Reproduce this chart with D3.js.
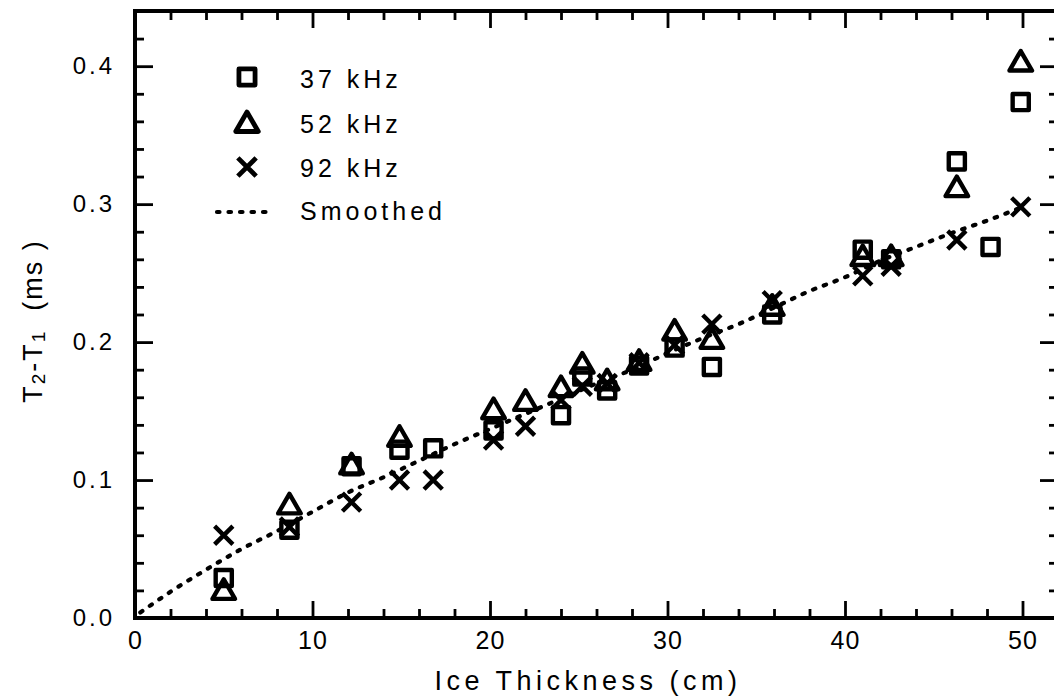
<!DOCTYPE html>
<html>
<head>
<meta charset="utf-8">
<script src="https://cdn.jsdelivr.net/npm/d3@7/dist/d3.min.js"></script>
<style>
  html, body { margin: 0; padding: 0; background: #fff; }
  svg { display: block; }
  text { font-family: "Liberation Sans", "DejaVu Sans", sans-serif; fill: #000; }
</style>
</head>
<body>
<script>
// Travel-time difference vs. ice thickness, three frequencies plus a smoothed fit
const thick37 = [5.0, 8.7, 12.2, 14.9, 16.8, 20.2, 24.0, 25.2, 26.6, 28.4, 30.4, 32.5, 35.9, 41.0, 42.6, 46.3, 48.2, 49.9];
const val37   = [0.029, 0.064, 0.110, 0.122, 0.123, 0.136, 0.147, 0.175, 0.165, 0.183, 0.196, 0.182, 0.220, 0.267, 0.260, 0.331, 0.269, 0.374];

const thick52 = [5.0, 8.7, 12.2, 14.9, 20.2, 22.0, 24.0, 25.2, 26.6, 28.4, 30.4, 32.5, 35.9, 41.0, 42.6, 46.3, 49.9];
const val52   = [0.020, 0.082, 0.111, 0.131, 0.151, 0.157, 0.167, 0.184, 0.172, 0.186, 0.208, 0.202, 0.226, 0.262, 0.262, 0.312, 0.403];

const thick92 = [5.0, 8.7, 12.2, 14.9, 16.8, 20.2, 22.0, 24.0, 25.2, 26.6, 28.4, 30.4, 32.5, 35.9, 41.0, 42.6, 46.3, 49.9];
const val92   = [0.060, 0.066, 0.084, 0.100, 0.100, 0.129, 0.139, 0.158, 0.168, 0.170, 0.185, 0.198, 0.213, 0.230, 0.248, 0.255, 0.274, 0.298];

const smoothX = [0.3, 2, 4, 6, 8, 10, 12, 14, 16, 18, 20, 22, 24, 26, 28, 30, 32, 34, 36, 38, 40, 42, 44, 46, 48, 50];
const smoothY = [0.004, 0.019, 0.035, 0.050, 0.063, 0.077, 0.091, 0.102, 0.114, 0.126, 0.137, 0.148, 0.159, 0.170, 0.180, 0.192, 0.203, 0.213, 0.225, 0.237, 0.247, 0.259, 0.269, 0.279, 0.288, 0.298];

const xMajor = [0, 10, 20, 30, 40, 50];
const xMinor = [2, 4, 6, 8, 12, 14, 16, 18, 22, 24, 26, 28, 32, 34, 36, 38, 42, 44, 46, 48, 52];
const yMajor = [0, 0.1, 0.2, 0.3, 0.4];
const yMinor = [0.02, 0.04, 0.06, 0.08, 0.12, 0.14, 0.16, 0.18, 0.22, 0.24, 0.26, 0.28, 0.32, 0.34, 0.36, 0.38, 0.42, 0.44];

const legendLabels = ["37 kHz", "52 kHz", "92 kHz", "Smoothed"];

const W = 1054, H = 697;
const plotL = 135, plotR = 1058, plotT = 11, plotB = 618;

const svg = d3.select("body").append("svg").attr("width", W).attr("height", H);

const x = d3.scaleLinear().domain([0, 52]).range([plotL, plotR]);
const y = d3.scaleLinear().domain([0, 0.44]).range([plotB, plotT]);

const AX = 4;
const MK = 4.4;

function styleAxis(g) {
  g.select(".domain").remove();
  g.selectAll(".tick line").attr("stroke", "#000").attr("stroke-width", 2.8);
}

// bottom axis
svg.append("g").attr("transform", `translate(0,${plotB})`)
  .call(d3.axisBottom(x).tickValues(xMajor).tickSizeInner(-17).tickSizeOuter(0).tickPadding(10).tickFormat(d3.format("d")))
  .call(styleAxis)
  .call(g => g.selectAll(".tick text").attr("font-size", 25).attr("letter-spacing", 1).attr("dy", "0.85em").attr("fill", "#000"));
svg.append("g").attr("transform", `translate(0,${plotB})`)
  .call(d3.axisBottom(x).tickValues(xMinor).tickSizeInner(-9).tickSizeOuter(0).tickFormat(""))
  .call(styleAxis);

// top axis
svg.append("g").attr("transform", `translate(0,${plotT})`)
  .call(d3.axisTop(x).tickValues(xMajor).tickSizeInner(-17).tickSizeOuter(0).tickFormat(""))
  .call(styleAxis);
svg.append("g").attr("transform", `translate(0,${plotT})`)
  .call(d3.axisTop(x).tickValues(xMinor).tickSizeInner(-9).tickSizeOuter(0).tickFormat(""))
  .call(styleAxis);

// left axis
svg.append("g").attr("transform", `translate(${plotL},0)`)
  .call(d3.axisLeft(y).tickValues(yMajor).tickSizeInner(-18).tickSizeOuter(0).tickPadding(20).tickFormat(d3.format(".1f")))
  .call(styleAxis)
  .call(g => g.selectAll(".tick text").attr("font-size", 24).attr("letter-spacing", 3).attr("fill", "#000"));
svg.append("g").attr("transform", `translate(${plotL},0)`)
  .call(d3.axisLeft(y).tickValues(yMinor).tickSizeInner(-9).tickSizeOuter(0).tickFormat(""))
  .call(styleAxis);

// right axis
svg.append("g").attr("transform", `translate(${plotR},0)`)
  .call(d3.axisRight(y).tickValues(yMajor).tickSizeInner(-18).tickSizeOuter(0).tickFormat(""))
  .call(styleAxis);
svg.append("g").attr("transform", `translate(${plotR},0)`)
  .call(d3.axisRight(y).tickValues(yMinor).tickSizeInner(-9).tickSizeOuter(0).tickFormat(""))
  .call(styleAxis);

// frame
svg.append("rect")
  .attr("x", plotL).attr("y", plotT)
  .attr("width", plotR - plotL).attr("height", plotB - plotT)
  .attr("fill", "none").attr("stroke", "#000").attr("stroke-width", AX);

// smoothed curve
const line = d3.line().x(d => x(d[0])).y(d => y(d[1])).curve(d3.curveMonotoneX);
svg.append("path")
  .datum(d3.zip(smoothX, smoothY))
  .attr("d", line)
  .attr("fill", "none").attr("stroke", "#000")
  .attr("stroke-width", 4.2).attr("stroke-linecap", "round").attr("stroke-dasharray", "2.5,9");

// markers
const symSquare = d3.symbol().type(d3.symbolSquare).size(260)();
const symTri = d3.symbol().type(d3.symbolTriangle).size(220)();
const symX = d3.symbol().type(d3.symbolTimes || d3.symbolX).size(220)();

function drawSeries(xs, ys, pathStr, dy) {
  svg.append("g").selectAll("path")
    .data(d3.zip(xs, ys))
    .join("path")
    .attr("d", pathStr)
    .attr("transform", d => `translate(${x(d[0])},${y(d[1]) + (dy || 0)})`)
    .attr("fill", "none").attr("stroke", "#000").attr("stroke-width", MK)
    .attr("stroke-linejoin", "round");
}
drawSeries(thick37, val37, symSquare);
drawSeries(thick52, val52, symTri, 2);
drawSeries(thick92, val92, symX);

// legend
const lg = svg.append("g");
const legendSyms = [symSquare, symTri, symX];
const rowY = [77, 123, 167, 212];
const baseY = [88, 133, 177, 220];
legendSyms.forEach((s, i) => {
  lg.append("path").attr("d", s)
    .attr("transform", `translate(247,${rowY[i] + (i === 1 ? 2 : 0)})`)
    .attr("fill", "none").attr("stroke", "#000").attr("stroke-width", 4.8)
    .attr("stroke-linejoin", "round");
});
lg.append("line")
  .attr("x1", 217).attr("x2", 274).attr("y1", rowY[3]).attr("y2", rowY[3])
  .attr("stroke", "#000").attr("stroke-width", 4.2).attr("stroke-linecap", "round").attr("stroke-dasharray", "2.5,9");
legendLabels.forEach((t, i) => {
  lg.append("text").attr("x", 300).attr("y", baseY[i])
    .attr("font-size", 25).attr("letter-spacing", 4).text(t);
});

// axis titles
svg.append("text")
  .attr("x", 588).attr("y", 690)
  .attr("text-anchor", "middle").attr("font-size", 27).attr("letter-spacing", 4.5)
  .text("Ice Thickness (cm)");

const yt = svg.append("text")
  .attr("transform", "translate(42,321) rotate(-90)")
  .attr("text-anchor", "middle").attr("font-size", 27).attr("letter-spacing", 2);
yt.append("tspan").text("T");
yt.append("tspan").attr("font-size", 19).attr("dy", 3).text("2");
yt.append("tspan").attr("dy", -3).text("-T");
yt.append("tspan").attr("font-size", 19).attr("dy", 3).text("1");
yt.append("tspan").attr("dy", -3).attr("xml:space", "preserve").text("  (ms )");
</script>
</body>
</html>
